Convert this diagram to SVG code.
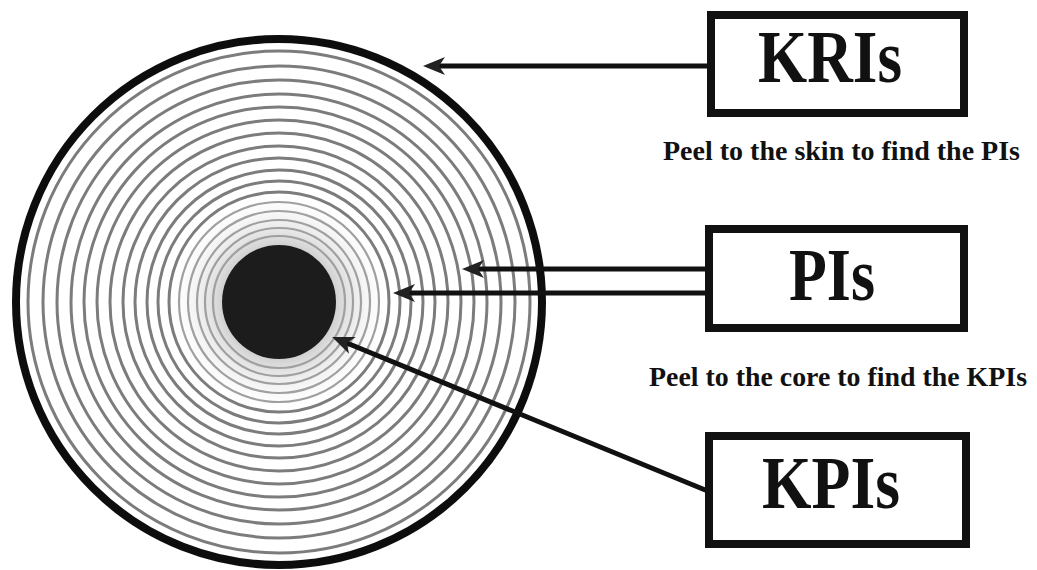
<svg xmlns="http://www.w3.org/2000/svg" width="1037" height="570" viewBox="0 0 1037 570">
  <style>
    .box { fill: #ffffff; stroke: #111111; stroke-width: 8; }
    .label { font-family: "Liberation Serif", "Times New Roman", serif; font-weight: bold; fill: #111111; }
    .big { font-size: 75px; text-anchor: middle; }
    .note { font-size: 28px; }
    .ring { fill: none; stroke: #7c7c7c; stroke-width: 3; }
    .ring-in { fill: none; stroke: #a0a0a0; stroke-width: 2.2; }
    .link { fill: none; stroke: #111111; stroke-width: 5; marker-end: url(#head); }
  </style>
  <defs>
    <marker id="head" markerUnits="userSpaceOnUse" markerWidth="24" markerHeight="22" refX="8" refY="11" orient="auto">
      <path d="M0,2 L22,11 L0,20 L6,11 Z" fill="#222222"/>
    </marker>
    <radialGradient id="coreHalo" cx="279" cy="302" r="112" gradientUnits="userSpaceOnUse">
      <stop offset="0.5" stop-color="#cfcfcf"/>
      <stop offset="1" stop-color="#ffffff" stop-opacity="0"/>
    </radialGradient>
    <filter id="soft" x="-5%" y="-5%" width="110%" height="110%">
      <feGaussianBlur stdDeviation="0.6"/>
    </filter>
  </defs>

  <rect width="1037" height="570" fill="#ffffff"/>

  <!-- growth rings of the cross-section -->
  <g id="rings" filter="url(#soft)">
    <circle cx="279" cy="302" r="263" fill="#ffffff"/>
    <circle cx="279" cy="302" r="112" fill="url(#coreHalo)"/>
    <circle class="ring" cx="279" cy="302" r="251"/>
    <circle class="ring" cx="279" cy="302" r="236"/>
    <circle class="ring" cx="279" cy="302" r="222"/>
    <circle class="ring" cx="279" cy="302" r="208"/>
    <circle class="ring" cx="279" cy="302" r="195"/>
    <circle class="ring" cx="279" cy="302" r="182"/>
    <circle class="ring" cx="279" cy="302" r="169"/>
    <circle class="ring" cx="279" cy="302" r="156"/>
    <circle class="ring" cx="279" cy="302" r="144"/>
    <circle class="ring" cx="279" cy="302" r="132"/>
    <circle class="ring" cx="279" cy="302" r="121"/>
    <circle class="ring" cx="279" cy="302" r="110"/>
    <circle class="ring-in" cx="279" cy="302" r="100"/>
    <circle class="ring-in" cx="279" cy="302" r="91"/>
    <circle class="ring-in" cx="279" cy="302" r="82"/>
    <circle class="ring-in" cx="279" cy="302" r="74"/>
    <circle class="ring-in" cx="279" cy="302" r="66"/>
    <!-- bark -->
    <circle cx="279" cy="302" r="263" fill="none" stroke="#111111" stroke-width="8"/>
    <!-- core -->
    <circle cx="279" cy="302" r="57" fill="#1e1e1e"/>
  </g>

  <!-- connectors -->
  <g id="connectors">
    <line class="link" x1="708" y1="66" x2="437" y2="66"/>
    <line class="link" x1="706" y1="269" x2="476" y2="269"/>
    <line class="link" x1="706" y1="293" x2="407" y2="293"/>
    <line class="link" x1="715" y1="494" x2="345" y2="342.3"/>
  </g>

  <g id="kris">
    <rect class="box" x="711" y="15" width="253" height="98"/>
    <text class="label big" x="830" y="82" textLength="144" lengthAdjust="spacingAndGlyphs">KRIs</text>
  </g>

  <g id="note-skin">
    <text class="label note" x="663" y="160" textLength="357" lengthAdjust="spacingAndGlyphs">Peel to the skin to find the PIs</text>
  </g>

  <g id="pis">
    <rect class="box" x="709" y="229" width="255" height="99"/>
    <text class="label big" x="832" y="300" textLength="86" lengthAdjust="spacingAndGlyphs">PIs</text>
  </g>

  <g id="note-core">
    <text class="label note" x="649" y="386" textLength="378" lengthAdjust="spacingAndGlyphs">Peel to the core to find the KPIs</text>
  </g>

  <g id="kpis">
    <rect class="box" x="709" y="436" width="257" height="108"/>
    <text class="label big" x="831" y="508" textLength="138" lengthAdjust="spacingAndGlyphs">KPIs</text>
  </g>
</svg>
